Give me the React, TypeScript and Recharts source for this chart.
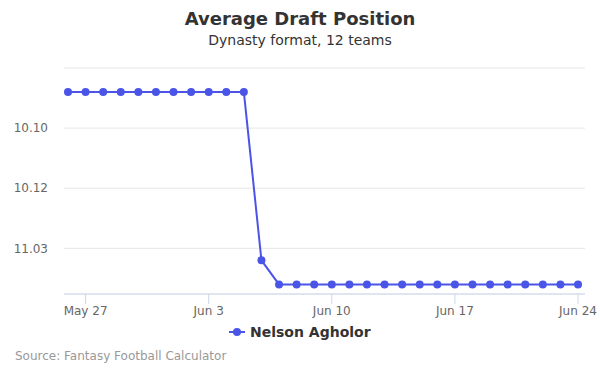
import React from 'react';
import { LineChart, Line, XAxis, YAxis, CartesianGrid } from 'recharts';

const days: string[] = [
  'May 26', 'May 27', 'May 28', 'May 29', 'May 30', 'May 31', 'Jun 1', 'Jun 2', 'Jun 3', 'Jun 4',
  'Jun 5', 'Jun 6', 'Jun 7', 'Jun 8', 'Jun 9', 'Jun 10', 'Jun 11', 'Jun 12', 'Jun 13', 'Jun 14',
  'Jun 15', 'Jun 16', 'Jun 17', 'Jun 18', 'Jun 19', 'Jun 20', 'Jun 21', 'Jun 22', 'Jun 23', 'Jun 24',
];
// overall pick number (12 teams): 116 = 10.08, 123 = 11.03, 124 = 11.04
const adp: number[] = [
  116, 116, 116, 116, 116, 116, 116, 116, 116, 116, 116,
  123,
  124, 124, 124, 124, 124, 124, 124, 124, 124, 124, 124, 124, 124, 124, 124, 124, 124, 124,
];
const xTicks: string[] = ['May 27', 'Jun 3', 'Jun 10', 'Jun 17', 'Jun 24'];
const yTicks: number[] = [115, 117.5, 120, 122.5];
const seriesName = 'Nelson Agholor';

const data = days.map((d, i) => ({ day: d, adp: adp[i] }));

const FONT = '"DejaVu Sans", sans-serif';
const COLOR = '#4a55e8';

const fmt = (v: number) => {
  if (v === 115) return '';
  const pick = Math.round(v);
  const round = Math.ceil(pick / 12);
  const p = pick - (round - 1) * 12;
  return `${round}.${p < 10 ? '0' + p : p}`;
};

export default function App() {
  return (
    <div style={{ position: 'absolute', left: 0, top: 0, width: 600, height: 375, background: '#fff', fontFamily: FONT }}>
      <div style={{ position: 'absolute', top: 8, width: 600, textAlign: 'center', fontSize: 18, fontWeight: 'bold', color: '#333' }}>
        Average Draft Position
      </div>
      <div style={{ position: 'absolute', top: 32, width: 600, textAlign: 'center', fontSize: 14, color: '#333' }}>
        Dynasty format, 12 teams
      </div>
      <LineChart width={600} height={375} data={data} margin={{ top: 68, right: 15, bottom: 51, left: 0 }}>
        <CartesianGrid horizontal vertical={false} stroke="#e6e6e6" />
        <XAxis
          dataKey="day"
          ticks={xTicks}
          interval={0}
          padding={{ left: 4, right: 7 }}
          stroke="#ccd6eb"
          tickSize={10}
          tickMargin={2}
          tick={{ fill: '#666', fontSize: 12, fontFamily: FONT }}
        />
        <YAxis
          type="number"
          reversed
          domain={[115, 124.4]}
          ticks={yTicks}
          width={64}
          axisLine={false}
          tickLine={false}
          tickSize={0}
          tickMargin={16}
          tickFormatter={fmt}
          tick={{ fill: '#666', fontSize: 12, fontFamily: FONT }}
        />
        <Line
          dataKey="adp"
          name={seriesName}
          stroke={COLOR}
          strokeWidth={2}
          dot={{ r: 4, fill: COLOR, stroke: COLOR, strokeWidth: 0 }}
          isAnimationActive={false}
        />
      </LineChart>
      <svg style={{ position: 'absolute', left: 0, top: 0 }} width={600} height={375} pointerEvents="none">
        <line x1={229} x2={245} y1={332} y2={332} stroke={COLOR} strokeWidth={2} />
        <circle cx={237} cy={332} r={4} fill={COLOR} />
        <text x={250} y={337} fontSize={14} fontWeight="bold" fill="#333" fontFamily={FONT}>{seriesName}</text>
        <text x={15} y={360} fontSize={12} fill="#999" fontFamily={FONT}>Source: Fantasy Football Calculator</text>
      </svg>
    </div>
  );
}
